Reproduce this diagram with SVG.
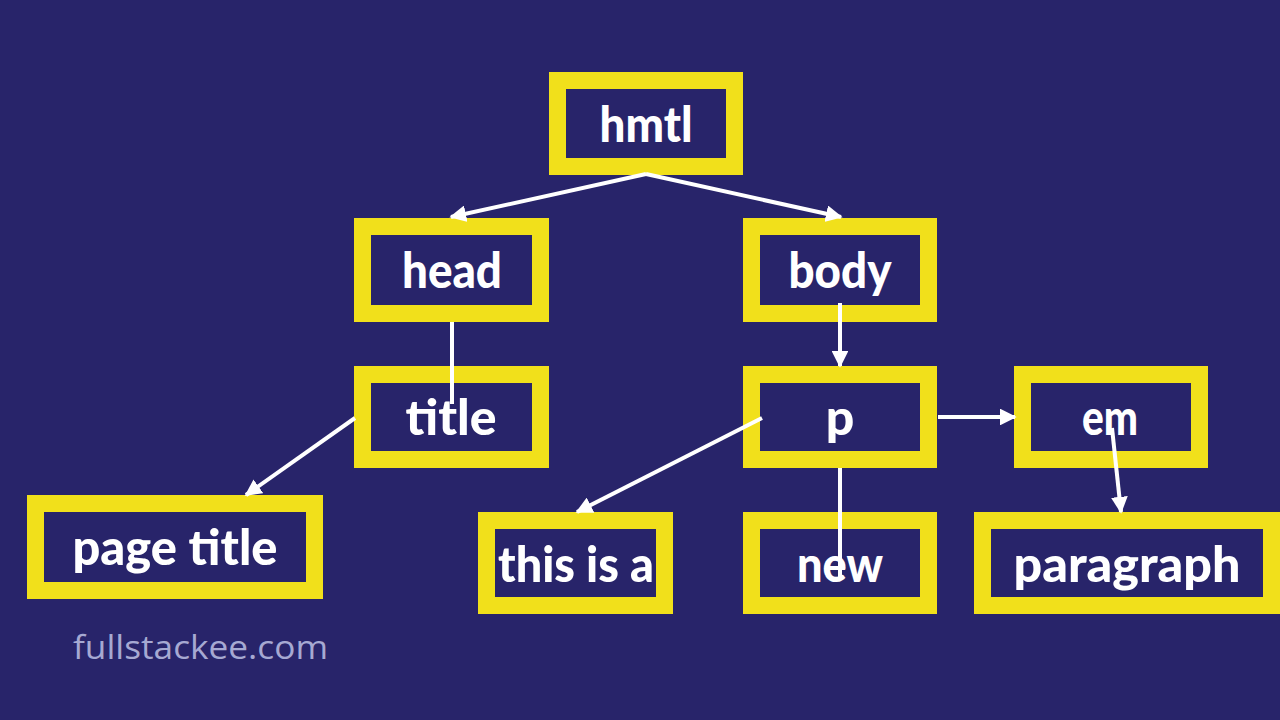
<svg xmlns="http://www.w3.org/2000/svg" width="1280" height="720" viewBox="0 0 1280 720">
  <defs>
    <marker id="arrow" viewBox="0 0 10 10" refX="9" refY="5" markerWidth="4.2" markerHeight="4.2" markerUnits="strokeWidth" orient="auto">
      <path d="M0,0 L10,5 L0,10 Z" fill="#ffffff"/>
    </marker>
    <style>
      .box { fill: #28246a; stroke: #f1e01b; stroke-width: 17; }
      .lbl { font-family: "Lato", "Open Sans", sans-serif; font-weight: 900; font-size: 50px; fill: #ffffff; text-anchor: middle; }
      .conn { stroke: #ffffff; stroke-width: 4; fill: none; stroke-linecap: butt; }
      .brand { font-family: "Open Sans", "Lato", sans-serif; font-weight: 400; font-size: 32px; fill: #a6a9d2; }
    </style>
  </defs>
  <rect x="0" y="0" width="1280" height="720" fill="#28246a"/>

  <g id="node-hmtl">
    <rect class="box" x="557.5" y="80.5" width="177" height="86"/>
    <text class="lbl" x="646" y="142" textLength="93" lengthAdjust="spacingAndGlyphs">hmtl</text>
  </g>
  <g id="node-head">
    <rect class="box" x="362.5" y="226.5" width="178" height="87"/>
    <text class="lbl" x="452" y="288" textLength="100" lengthAdjust="spacingAndGlyphs">head</text>
  </g>
  <g id="node-body">
    <rect class="box" x="751.5" y="226.5" width="177" height="87"/>
    <text class="lbl" x="840" y="288" textLength="103" lengthAdjust="spacingAndGlyphs">body</text>
  </g>
  <g id="node-title">
    <rect class="box" x="362.5" y="374.5" width="178" height="85"/>
    <text class="lbl" x="451" y="435" textLength="91" lengthAdjust="spacingAndGlyphs">title</text>
  </g>
  <g id="node-p">
    <rect class="box" x="751.5" y="374.5" width="177" height="85"/>
    <text class="lbl" x="840" y="435">p</text>
  </g>
  <g id="node-em">
    <rect class="box" x="1022.5" y="374.5" width="177" height="85"/>
    <text class="lbl" x="1110" y="435" textLength="56" lengthAdjust="spacingAndGlyphs">em</text>
  </g>
  <g id="node-page-title">
    <rect class="box" x="35.5" y="503.5" width="279" height="87"/>
    <text class="lbl" x="175" y="565" textLength="205" lengthAdjust="spacingAndGlyphs">page title</text>
  </g>
  <g id="node-this-is-a">
    <rect class="box" x="486.5" y="520.5" width="178" height="85"/>
    <text class="lbl" x="576" y="582" textLength="156" lengthAdjust="spacingAndGlyphs">this is a</text>
  </g>
  <g id="node-new">
    <rect class="box" x="751.5" y="520.5" width="177" height="85"/>
    <text class="lbl" x="840" y="582" textLength="86" lengthAdjust="spacingAndGlyphs">new</text>
  </g>
  <g id="node-paragraph">
    <rect class="box" x="982.5" y="520.5" width="289" height="85"/>
    <text class="lbl" x="1127" y="582" textLength="227" lengthAdjust="spacingAndGlyphs">paragraph</text>
  </g>

  <g id="connectors">
    <line class="conn" x1="646" y1="174" x2="451" y2="217" marker-end="url(#arrow)"/>
    <line class="conn" x1="646" y1="174" x2="841" y2="217" marker-end="url(#arrow)"/>
    <line class="conn" x1="452" y1="322" x2="452" y2="404"/>
    <line class="conn" x1="355" y1="418" x2="246" y2="495" marker-end="url(#arrow)"/>
    <line class="conn" x1="840" y1="303" x2="840" y2="366" marker-end="url(#arrow)"/>
    <line class="conn" x1="762" y1="418" x2="577" y2="512" marker-end="url(#arrow)"/>
    <line class="conn" x1="938" y1="417" x2="1015" y2="417" marker-end="url(#arrow)"/>
    <line class="conn" x1="840" y1="468" x2="840" y2="580"/>
    <line class="conn" x1="1112" y1="428" x2="1121" y2="512" marker-end="url(#arrow)"/>
  </g>

  <text class="brand" x="73" y="659" textLength="255" lengthAdjust="spacingAndGlyphs">fullstackee.com</text>
</svg>
